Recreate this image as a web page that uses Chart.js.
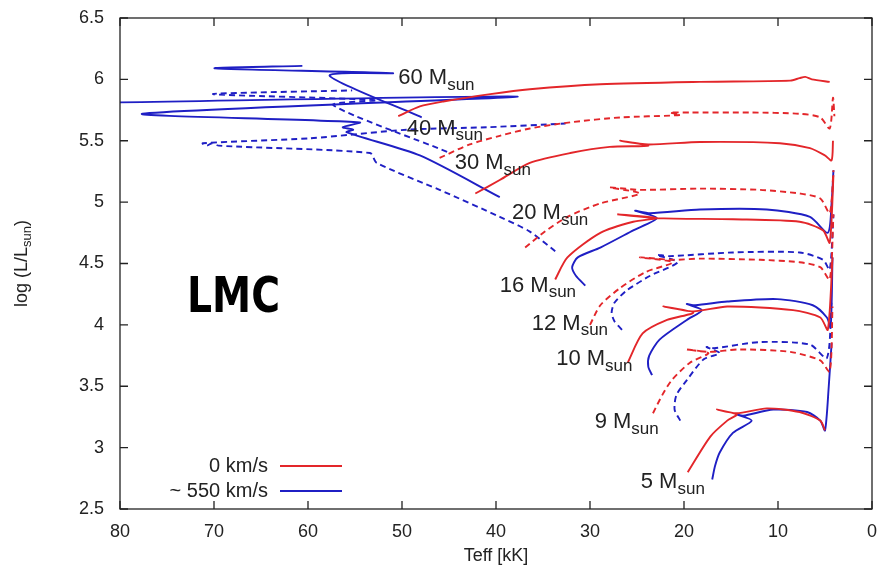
<!DOCTYPE html>
<html>
<head>
<meta charset="utf-8">
<script src="https://cdn.jsdelivr.net/npm/chart.js@4.4.0/dist/chart.umd.min.js"></script>
<style>
  html, body { margin: 0; padding: 0; background: #fff; }
  #wrap { width: 880px; height: 578px; }
</style>
</head>
<body>
<div id="wrap"><canvas id="hrd"></canvas></div>
<script>
// Evolutionary tracks in the HR diagram, LMC metallicity.
// Each point is [Teff (kK), log L/Lsun].

const teffTicks = [0, 10, 20, 30, 40, 50, 60, 70, 80];
const lumTicks = [2.5, 3, 3.5, 4, 4.5, 5, 5.5, 6, 6.5];

const legendLabels = ['0 km/s', '~ 550 km/s'];
const massNames = ['60', '40', '30', '20', '16', '12', '10', '9', '5'];
// where each mass label sits: [Teff, logL] of its left edge
const massLabelAt = [[50.4, 6.01], [49.5, 5.60], [44.4, 5.32], [38.3, 4.91], [39.6, 4.32],
                     [36.2, 4.01], [33.6, 3.72], [29.5, 3.21], [24.6, 2.72]];
const dashedMass = [false, true, false, true, false, true, false, true, false];

// non-rotating models
const nonrot60 = [[50.4, 5.70], [48.1, 5.78], [45.6, 5.82], [40.6, 5.88], [36.4, 5.92], [28.9, 5.96],
                  [18.3, 5.98], [8.7, 5.99], [7.7, 6.01], [7.1, 6.02], [6.4, 6.00], [4.5, 5.98]];
const nonrot40 = [[46.0, 5.36], [42.8, 5.47], [39.6, 5.54], [36.4, 5.60], [32.1, 5.65], [26.8, 5.69],
                  [20.4, 5.71], [21.5, 5.73], [19.4, 5.73], [13.0, 5.73], [7.7, 5.72], [5.5, 5.69],
                  [4.5, 5.60], [4.15, 5.85], [4.0, 5.70]];
const nonrot30 = [[42.2, 5.07], [39.6, 5.18], [36.4, 5.32], [32.1, 5.40], [27.9, 5.45], [23.8, 5.46],
                  [26.8, 5.50], [23.8, 5.47], [18.3, 5.49], [9.8, 5.48], [6.6, 5.44], [5.0, 5.38],
                  [4.3, 5.34], [4.15, 5.50]];
const nonrot20 = [[36.9, 4.63], [34.8, 4.76], [32.4, 4.88], [28.9, 4.99], [24.7, 5.07], [27.9, 5.12],
                  [24.7, 5.10], [18.3, 5.11], [11.9, 5.10], [7.7, 5.07], [5.5, 5.03], [4.5, 4.91],
                  [4.1, 5.26]];
const nonrot16 = [[33.7, 4.37], [32.4, 4.55], [28.9, 4.75], [25.4, 4.84], [22.9, 4.87], [27.1, 4.90],
                  [22.9, 4.87], [14.8, 4.86], [7.7, 4.84], [5.2, 4.77], [4.5, 4.67], [4.1, 5.22]];
const nonrot12 = [[30.0, 4.00], [28.9, 4.16], [26.8, 4.30], [24.1, 4.43], [21.2, 4.51], [24.7, 4.55],
                  [21.2, 4.53], [18.3, 4.54], [11.9, 4.53], [7.7, 4.51], [5.5, 4.47], [4.5, 4.37],
                  [4.1, 4.90]];
const nonrot10 = [[26.0, 3.69], [24.4, 3.93], [21.8, 4.04], [19.0, 4.10], [22.2, 4.15], [19.0, 4.11],
                  [15.4, 4.15], [8.4, 4.12], [5.5, 4.06], [4.7, 3.96], [4.2, 4.55]];
const nonrot9 = [[23.3, 3.28], [22.3, 3.43], [21.3, 3.55], [19.4, 3.69], [17.4, 3.77], [19.7, 3.80],
                 [17.4, 3.78], [14.0, 3.80], [8.7, 3.78], [5.5, 3.71], [4.5, 3.62], [4.2, 4.15]];
const nonrot5 = [[19.6, 2.80], [17.2, 3.09], [15.4, 3.22], [14.4, 3.27], [16.5, 3.31], [14.4, 3.28],
                 [11.2, 3.32], [7.7, 3.29], [5.5, 3.22], [5.0, 3.14]];

// fast rotators (~550 km/s)
const rot60 = [[47.9, 5.69], [57.7, 6.03], [51.0, 6.05], [69.9, 6.09], [60.6, 6.11]];
const rot40 = [[45.2, 5.41], [57.3, 5.79], [52.7, 5.83], [70.1, 5.88], [55.3, 5.91]];
const rot30 = [[39.6, 5.04], [48.1, 5.38], [55.9, 5.57], [55.2, 5.59], [56.3, 5.61], [54.5, 5.65],
               [77.6, 5.72], [37.7, 5.86], [82.1, 5.81]];
const rot20 = [[33.7, 4.60], [36.4, 4.76], [39.6, 4.88], [46.0, 5.10], [52.7, 5.32], [53.4, 5.40],
               [69.5, 5.46], [70.2, 5.48], [70.8, 5.46], [71.2, 5.48], [59.8, 5.52], [49.5, 5.59],
               [41.0, 5.61], [32.6, 5.64]];
const rot16 = [[30.5, 4.32], [31.5, 4.40], [31.9, 4.47], [31.3, 4.55], [28.9, 4.63], [25.4, 4.77],
               [22.9, 4.87], [25.2, 4.93], [23.6, 4.91], [18.3, 4.94], [11.2, 4.94], [6.6, 4.88],
               [4.7, 4.75], [4.3, 4.99], [4.1, 5.26]];
const rot12 = [[26.6, 3.96], [27.4, 4.03], [27.7, 4.10], [27.4, 4.18], [26.1, 4.28], [23.6, 4.40],
               [20.7, 4.51], [22.9, 4.57], [21.5, 4.56], [14.8, 4.59], [7.7, 4.59], [5.2, 4.53],
               [4.5, 4.45], [4.1, 4.90]];
const rot10 = [[23.4, 3.59], [23.8, 3.66], [23.7, 3.75], [22.6, 3.88], [19.7, 4.04], [18.1, 4.12],
               [19.7, 4.17], [18.8, 4.16], [15.4, 4.19], [10.1, 4.21], [6.3, 4.16], [4.8, 4.06],
               [4.4, 3.98], [4.2, 4.55]];
const rot9 = [[20.4, 3.22], [21.0, 3.31], [20.8, 3.43], [19.7, 3.55], [17.9, 3.72], [16.2, 3.77],
              [17.6, 3.82], [16.8, 3.81], [11.9, 3.86], [6.6, 3.84], [4.8, 3.73], [4.3, 4.20]];
const rot5 = [[17.0, 2.74], [16.7, 2.85], [16.2, 2.96], [14.8, 3.12], [12.8, 3.22], [14.4, 3.27],
              [13.7, 3.26], [10.5, 3.31], [6.9, 3.29], [5.5, 3.22], [5.0, 3.14], [4.6, 3.50],
              [4.3, 3.85]];

const nonrotTracks = [nonrot60, nonrot40, nonrot30, nonrot20, nonrot16, nonrot12, nonrot10, nonrot9, nonrot5];
const rotTracks = [rot60, rot40, rot30, rot20, rot16, rot12, rot10, rot9, rot5];

const RED = '#e3262a';
const BLUE = '#1f1fc4';
const TEXT = '#222';
const FONT = '"Liberation Sans", Arial, sans-serif';

function trackDataset(track, color, dashed) {
    return {
        data: track.map(p => ({ x: p[0], y: p[1] })),
        showLine: true,
        borderColor: color,
        borderWidth: 1.9,
        borderDash: dashed ? [6, 4] : [],
        pointRadius: 0,
        tension: 0.25
    };
}

const datasets = [
    ...nonrotTracks.map((t, i) => trackDataset(t, RED, dashedMass[i])),
    ...rotTracks.map((t, i) => trackDataset(t, BLUE, dashedMass[i]))
];

// text with a lowered subscript, starting at x
function subText(ctx, x, y, main, sub, size, subSize, drop) {
    ctx.font = size + 'px ' + FONT;
    ctx.fillText(main, x, y);
    const w = ctx.measureText(main).width;
    ctx.font = subSize + 'px ' + FONT;
    ctx.fillText(sub, x + w, y + drop);
    return w + ctx.measureText(sub).width;
}

// closed frame with inward tick marks on all four sides
const frameTicks = {
    id: 'frameTicks',
    afterDraw(chart) {
        const { ctx, chartArea: a, scales: { x, y } } = chart;
        ctx.save();
        ctx.strokeStyle = TEXT;
        ctx.lineWidth = 1.3;
        ctx.strokeRect(a.left, a.top, a.right - a.left, a.bottom - a.top);
        ctx.beginPath();
        teffTicks.forEach(v => {
            const px = x.getPixelForValue(v);
            ctx.moveTo(px, a.bottom); ctx.lineTo(px, a.bottom - 8);
            ctx.moveTo(px, a.top); ctx.lineTo(px, a.top + 8);
        });
        lumTicks.forEach(v => {
            const py = y.getPixelForValue(v);
            ctx.moveTo(a.left, py); ctx.lineTo(a.left + 8, py);
            ctx.moveTo(a.right, py); ctx.lineTo(a.right - 8, py);
        });
        ctx.stroke();
        ctx.restore();
    }
};

// mass labels, legend, axis titles and the galaxy tag
const annotations = {
    id: 'annotations',
    afterDraw(chart) {
        const { ctx, chartArea: a, scales: { x, y } } = chart;
        ctx.save();
        ctx.fillStyle = TEXT;
        ctx.textBaseline = 'middle';
        ctx.textAlign = 'left';

        massNames.forEach((m, i) => {
            const [t, l] = massLabelAt[i];
            subText(ctx, x.getPixelForValue(t), y.getPixelForValue(l), m + ' M', 'sun', 22, 17, 7);
        });

        // legend inside the lower left corner
        ctx.font = '20px ' + FONT;
        ctx.textAlign = 'right';
        [RED, BLUE].forEach((c, i) => {
            const ly = a.bottom - 43 + i * 25;
            ctx.fillStyle = TEXT;
            ctx.fillText(legendLabels[i], a.left + 148, ly);
            ctx.strokeStyle = c;
            ctx.lineWidth = 1.9;
            ctx.beginPath();
            ctx.moveTo(a.left + 160, ly);
            ctx.lineTo(a.left + 222, ly);
            ctx.stroke();
        });

        // x title
        ctx.fillStyle = TEXT;
        ctx.textAlign = 'center';
        ctx.font = '18px ' + FONT;
        ctx.fillText('Teff [kK]', (a.left + a.right) / 2, 556);

        // y title, rotated
        ctx.save();
        ctx.translate(22, (a.top + a.bottom) / 2);
        ctx.rotate(-Math.PI / 2);
        ctx.textAlign = 'left';
        ctx.font = '18px ' + FONT;
        const w1 = ctx.measureText('log (L/L').width;
        ctx.font = '13px ' + FONT;
        const w2 = ctx.measureText('sun').width;
        ctx.font = '18px ' + FONT;
        const w3 = ctx.measureText(')').width;
        const x0 = -(w1 + w2 + w3) / 2;
        subText(ctx, x0, 0, 'log (L/L', 'sun', 18, 13, 5);
        ctx.font = '18px ' + FONT;
        ctx.fillText(')', x0 + w1 + w2, 0);
        ctx.restore();

        // LMC tag
        ctx.save();
        ctx.font = '600 50px "DejaVu Sans", sans-serif';
        const lw = ctx.measureText('LMC').width;
        ctx.translate(187, 299);
        ctx.scale(93 / lw, 1);
        ctx.textAlign = 'left';
        ctx.fillStyle = '#000';
        ctx.fillText('LMC', 0, 0);
        ctx.restore();

        ctx.restore();
    }
};

new Chart(document.getElementById('hrd'), {
    type: 'scatter',
    data: { datasets },
    options: {
        responsive: true,
        maintainAspectRatio: false,
        animation: false,
        layout: { padding: { top: 18, right: 8, left: 0, bottom: 0 } },
        plugins: { legend: { display: false }, tooltip: { enabled: false } },
        scales: {
            x: {
                type: 'linear',
                reverse: true,
                min: 0,
                max: 80,
                afterBuildTicks: s => { s.ticks = teffTicks.map(v => ({ value: v })); },
                afterFit: s => { s.height = 69; s.paddingLeft = 0; s.paddingRight = 0; },
                grid: { display: false, drawTicks: false },
                border: { display: false },
                ticks: { color: TEXT, font: { size: 18, family: FONT }, padding: 12, maxRotation: 0 }
            },
            y: {
                type: 'linear',
                min: 2.5,
                max: 6.5,
                afterBuildTicks: s => { s.ticks = lumTicks.map(v => ({ value: v })); },
                afterFit: s => { s.width = 120; s.paddingTop = 0; s.paddingBottom = 0; },
                grid: { display: false, drawTicks: false },
                border: { display: false },
                ticks: {
                    color: TEXT,
                    font: { size: 18, family: FONT },
                    padding: 16,
                    callback: v => String(v)
                }
            }
        }
    },
    plugins: [frameTicks, annotations]
});
</script>
</body>
</html>
